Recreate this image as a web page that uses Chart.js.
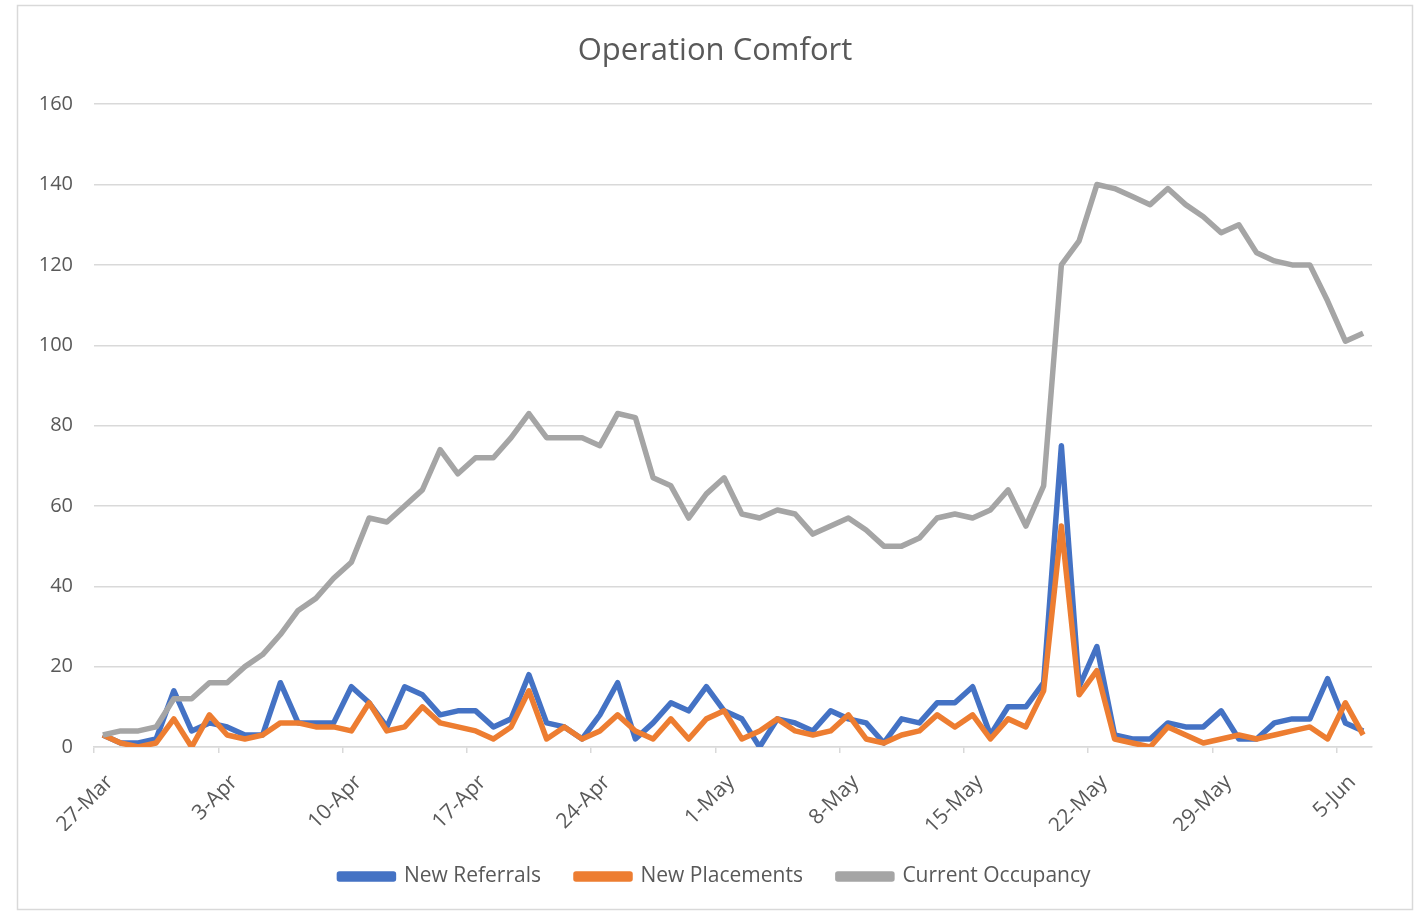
<!DOCTYPE html>
<html>
<head>
<meta charset="utf-8">
<script src="https://cdn.jsdelivr.net/npm/chart.js@4/dist/chart.umd.min.js"></script>
<style>
  body { margin: 0; background: #fff; }
  #wrap { width: 1420px; height: 912px; }
</style>
</head>
<body>
<div id="wrap"><canvas id="chart" width="1420" height="912"></canvas></div>
<script>
// daily dates, 27-Mar to 6-Jun
const days = [
  '27-Mar', '28-Mar', '29-Mar', '30-Mar', '31-Mar',
  '1-Apr', '2-Apr', '3-Apr', '4-Apr', '5-Apr', '6-Apr', '7-Apr', '8-Apr', '9-Apr', '10-Apr',
  '11-Apr', '12-Apr', '13-Apr', '14-Apr', '15-Apr', '16-Apr', '17-Apr', '18-Apr', '19-Apr', '20-Apr',
  '21-Apr', '22-Apr', '23-Apr', '24-Apr', '25-Apr', '26-Apr', '27-Apr', '28-Apr', '29-Apr', '30-Apr',
  '1-May', '2-May', '3-May', '4-May', '5-May', '6-May', '7-May', '8-May', '9-May', '10-May',
  '11-May', '12-May', '13-May', '14-May', '15-May', '16-May', '17-May', '18-May', '19-May', '20-May',
  '21-May', '22-May', '23-May', '24-May', '25-May', '26-May', '27-May', '28-May', '29-May', '30-May',
  '31-May', '1-Jun', '2-Jun', '3-Jun', '4-Jun', '5-Jun', '6-Jun'
];

const newReferrals = [
  3, 1, 1, 2, 14, 4, 6, 5, 3, 3,
  16, 6, 6, 6, 15, 11, 5, 15, 13, 8,
  9, 9, 5, 7, 18, 6, 5, 2, 8, 16,
  2, 6, 11, 9, 15, 9, 7, 0, 7, 6,
  4, 9, 7, 6, 1, 7, 6, 11, 11, 15,
  3, 10, 10, 16, 75, 15, 25, 3, 2, 2,
  6, 5, 5, 9, 2, 2, 6, 7, 7, 17,
  6, 4
];

const newPlacements = [
  3, 1, 0, 1, 7, 0, 8, 3, 2, 3,
  6, 6, 5, 5, 4, 11, 4, 5, 10, 6,
  5, 4, 2, 5, 14, 2, 5, 2, 4, 8,
  4, 2, 7, 2, 7, 9, 2, 4, 7, 4,
  3, 4, 8, 2, 1, 3, 4, 8, 5, 8,
  2, 7, 5, 14, 55, 13, 19, 2, 1, 0,
  5, 3, 1, 2, 3, 2, 3, 4, 5, 2,
  11, 3
];

const currentOccupancy = [
  3, 4, 4, 5, 12, 12, 16, 16, 20, 23,
  28, 34, 37, 42, 46, 57, 56, 60, 64, 74,
  68, 72, 72, 77, 83, 77, 77, 77, 75, 83,
  82, 67, 65, 57, 63, 67, 58, 57, 59, 58,
  53, 55, 57, 54, 50, 50, 52, 57, 58, 57,
  59, 64, 55, 65, 120, 126, 140, 139, 137, 135,
  139, 135, 132, 128, 130, 123, 121, 120, 120, 111,
  101, 103
];

const yMin = 0, yMax = 160, yStep = 20;
const labelEvery = 7;

const textColor = '#595959';
const gridColor = '#d9d9d9';
const fontFamily = "'Open Sans', 'Noto Sans', sans-serif";

// white background + thin frame round the chart object
const frame = {
  id: 'frame',
  beforeDraw(chart) {
    const c = chart.ctx;
    c.save();
    c.fillStyle = '#fff';
    c.fillRect(0, 0, chart.width, chart.height);
    c.strokeStyle = gridColor;
    c.lineWidth = 1.5;
    c.strokeRect(17.5, 5.5, 1395, 904);
    c.restore();
  }
};

function series(label, data, color, order) {
  return {
    label, data, order,
    borderColor: color,
    backgroundColor: color,
    borderWidth: 5.5,
    borderJoinStyle: 'round',
    pointRadius: 0,
    tension: 0,
    fill: false
  };
}

new Chart(document.getElementById('chart').getContext('2d'), {
  type: 'line',
  data: {
    labels: days,
    datasets: [
      series('New Referrals', newReferrals, '#4472c4', 2),
      series('New Placements', newPlacements, '#ed7d31', 1),
      series('Current Occupancy', currentOccupancy, '#a5a5a5', 0)
    ]
  },
  options: {
    responsive: false,
    animation: false,
    layout: { padding: { top: 0, left: 10, right: 0, bottom: 15 } },
    plugins: {
      title: {
        display: true,
        text: 'Operation Comfort',
        color: textColor,
        font: { family: fontFamily, size: 31, weight: 'normal' },
        padding: { top: 33, bottom: 34 }
      },
      legend: {
        position: 'bottom',
        labels: {
          color: textColor,
          font: { family: fontFamily, size: 21 },
          boxWidth: 54,
          boxHeight: 5,
          padding: 35,
          sort: (a, b) => a.datasetIndex - b.datasetIndex
        }
      },
      tooltip: { enabled: false }
    },
    scales: {
      x: {
        offset: true,
        afterFit: s => { s.height = 84; },
        border: { color: gridColor, width: 1.5 },
        grid: {
          offset: true,
          drawOnChartArea: false,
          tickLength: 6,
          lineWidth: 1.5,
          color: ctx => (ctx.index % labelEvery === 0 ? gridColor : 'rgba(0,0,0,0)')
        },
        ticks: {
          autoSkip: false,
          maxRotation: 45,
          minRotation: 45,
          padding: 17,
          labelOffset: 7,
          color: textColor,
          font: { family: fontFamily, size: 21 },
          callback: (v, i) => (i % labelEvery === 0 ? days[i] : '')
        }
      },
      y: {
        min: yMin,
        max: yMax,
        afterFit: s => { s.width = 84; },
        border: { display: false },
        grid: { color: gridColor, lineWidth: 1.5, drawTicks: false },
        ticks: {
          stepSize: yStep,
          padding: 21,
          color: textColor,
          font: { family: fontFamily, size: 20 }
        }
      },
      // empty right-hand strip so the plot stops where the reference's does
      spacer: {
        type: 'linear',
        position: 'right',
        afterFit: s => { s.width = 48; },
        border: { display: false },
        grid: { display: false },
        ticks: { display: false }
      }
    }
  },
  plugins: [frame]
});
</script>
</body>
</html>
